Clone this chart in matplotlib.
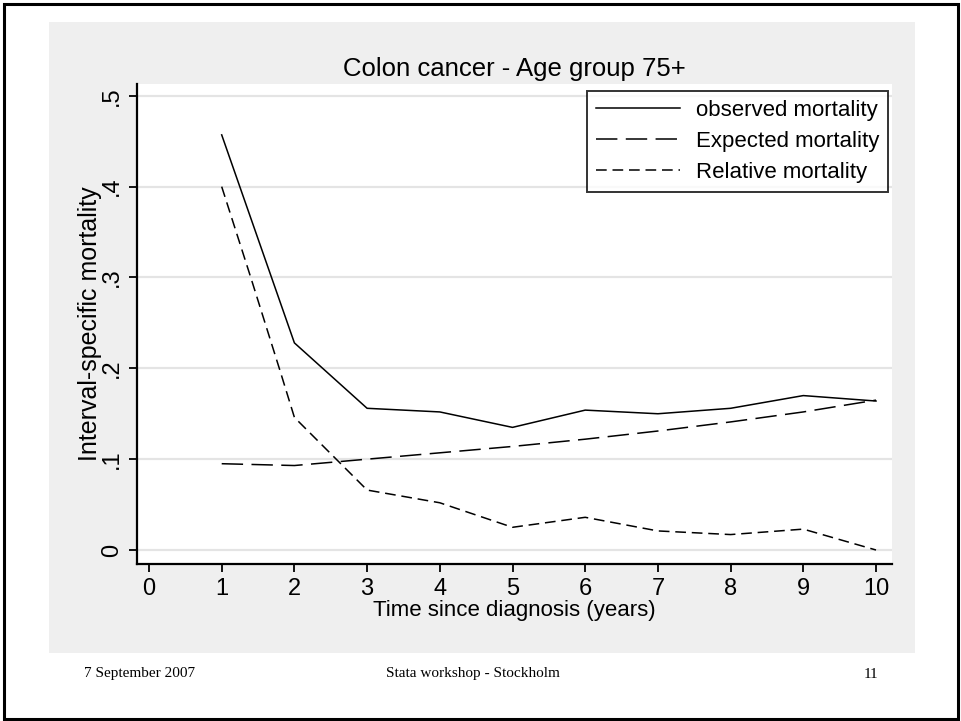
import numpy as np
import matplotlib
matplotlib.use('Agg')
import matplotlib.pyplot as plt
from matplotlib.patches import Rectangle

# values
years = [1, 2, 3, 4, 5, 6, 7, 8, 9, 10]
observed = [0.457, 0.228, 0.156, 0.152, 0.135, 0.154, 0.150, 0.156, 0.170, 0.164]
expected = [0.095, 0.093, 0.100, 0.107, 0.114, 0.122, 0.131, 0.141, 0.152, 0.165]
rel_years = [1, 1.4, 1.8, 2, 3, 4, 5, 6, 7, 8, 9, 10]
relative = [0.400, 0.300, 0.198, 0.146, 0.066, 0.052, 0.025, 0.036, 0.021, 0.017, 0.023, 0.0]

xticks = list(range(0, 11))
yticks = [0, 0.1, 0.2, 0.3, 0.4, 0.5]
ytick_labels = ['0', '.1', '.2', '.3', '.4', '.5']

plt.rcParams['font.family'] = ['Liberation Sans', 'DejaVu Sans']

W, H = 961, 721
fig = plt.figure(figsize=(W / 100, H / 100), dpi=100)
fig.patch.set_facecolor('white')

# slide border and stata graph region
fig.add_artist(Rectangle((4 / W, 2 / H), (W - 7) / W, (H - 6) / H,
                         transform=fig.transFigure, fill=False,
                         edgecolor='black', linewidth=2.2, zorder=0))
fig.add_artist(Rectangle((49 / W, (H - 653) / H), (915 - 49) / W, (653 - 22) / H,
                         transform=fig.transFigure, facecolor='#efefef',
                         edgecolor='none', zorder=0))

left, right, top, bottom = 137, 892, 84, 564
ax = fig.add_axes([left / W, (H - bottom) / H, (right - left) / W, (bottom - top) / H])
ax.set_facecolor('white')

ax.plot(years, observed, color='black', linewidth=1.1, label='observed mortality')
ax.plot(years, expected, color='black', linewidth=1.1, dashes=(14, 5.5),
        label='Expected mortality')
ax.plot(rel_years, relative, color='black', linewidth=1.1, dashes=(7, 3.8),
        label='Relative mortality')

ax.set_xlim(-0.165, 10.22)
ax.set_ylim(-0.0154, 0.513)
ax.set_xticks(xticks)
ax.set_yticks(yticks)
ax.set_yticklabels(ytick_labels)
for lab in ax.get_yticklabels():
    lab.set_rotation(90)
    lab.set_va('center')

ax.grid(axis='y', color='#e4e4e4', linewidth=1.6)
ax.set_axisbelow(True)
for s in ['top', 'right']:
    ax.spines[s].set_visible(False)
for s in ['left', 'bottom']:
    ax.spines[s].set_linewidth(1.6)
ax.tick_params(axis='both', length=6, width=1.3, labelsize=17, pad=4)

ax.set_xlabel('Time since diagnosis (years)', fontsize=16, labelpad=0)
ax.set_ylabel('Interval-specific mortality', fontsize=18, labelpad=-1)
ax.set_title('Colon cancer - Age group 75+', fontsize=18.5, pad=6)

leg = ax.legend(loc='upper right', bbox_to_anchor=(0.995, 0.985), fontsize=16,
                frameon=True, fancybox=False, handlelength=3.8,
                handletextpad=0.7, labelspacing=0.45, borderpad=0.4,
                borderaxespad=0)
leg.get_frame().set_edgecolor('black')
leg.get_frame().set_linewidth(1.4)

# footer
fy = 1 - 674 / H
fig.text(84 / W, fy, '7 September 2007', family='Liberation Serif', fontsize=11,
         ha='left', va='center')
fig.text(473 / W, fy, 'Stata workshop - Stockholm', family='Liberation Serif',
         fontsize=11, ha='center', va='center')
fig.text(871 / W, fy, '11', family='Liberation Serif', fontsize=11,
         ha='center', va='center')

fig.savefig('out.png', dpi=100)
